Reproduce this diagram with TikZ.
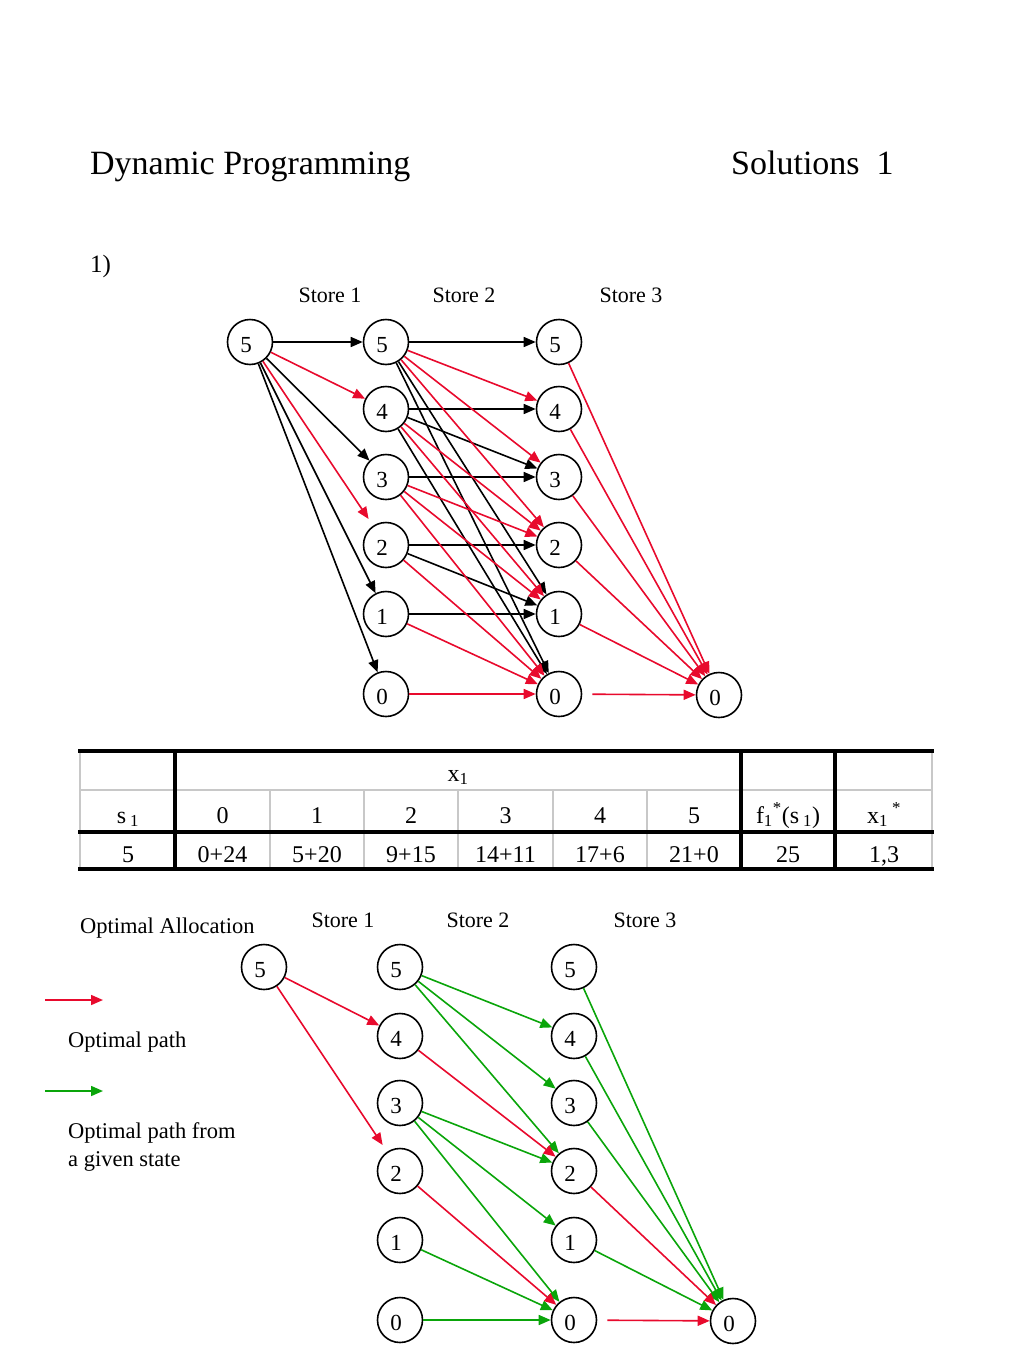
\documentclass[tikz,border=0pt]{standalone}
\usepackage{fontspec}
\setmainfont{Liberation Serif}
\usepackage{graphicx}
\usetikzlibrary{arrows.meta}
\newcommand\fsz[2]{\fontsize{#1}{#2}\selectfont}
\definecolor{myred}{RGB}{232,10,45}
\definecolor{mygreen}{RGB}{10,165,10}
\definecolor{tgray}{RGB}{200,200,200}
\tikzset{
  st/.style={circle,draw,line width=1.6pt,minimum size=45pt,inner sep=0pt},
  digit/.style={font=\fsz{23}{27},inner sep=0pt,xshift=-4pt,yshift=-3pt},
  ar/.style={-{Triangle[length=12pt,width=10pt]},line width=1.6pt},
  bk/.style={ar,draw=black},
  rd/.style={ar,draw=myred,fill=myred},
  gn/.style={ar,draw=mygreen,fill=mygreen},
  lbl/.style={font=\fsz{22}{26},anchor=base,inner sep=0pt},
  txt/.style={font=\fsz{22.5}{28},anchor=base west,inner sep=0pt},
  ttl/.style={font=\fsz{34}{40},anchor=base west,inner sep=0pt},
  tcell/.style={font=\fsz{24}{28},anchor=base,inner sep=0pt},
  thick line/.style={line width=3.5pt,black},
  thin line/.style={line width=1.6pt,tgray}
}
\begin{document}
\begin{tikzpicture}[x=1pt,y=-1pt]
\useasboundingbox (0,0) rectangle (1024,1365);
% titles
\node[ttl] (title) at (90,174) {Dynamic Programming};
\node[ttl] (sol) at (731,174) {Solutions~ 1};
\node[font=\fsz{25}{30},anchor=base west,inner sep=0pt] (q1) at (90,272) {1)};
\node[lbl] (ts1) at (330,302) {Store 1};
\node[lbl] (ts2) at (464,302) {Store 2};
\node[lbl] (ts3) at (631,302) {Store 3};
% top nodes
\node[st,label={[digit]center:5}] (ta5) at (250,342) {};
\foreach \v/\y in {5/342,4/409,3/477,2/545,1/614,0/694} {
  \node[st,label={[digit]center:\v}] (tb\v) at (386,\y) {};
  \node[st,label={[digit]center:\v}] (tc\v) at (559,\y) {};
}
\node[st,label={[digit]center:0}] (td0) at (719,695) {};
% top edges black
\draw[bk] (ta5) -- (tb5);
\draw[bk] (ta5) -- (tb3);
\draw[bk] (ta5) -- (tb1);
\draw[bk] (ta5) -- (tb0);
\draw[bk] (tb5) -- (tc5);
\draw[bk] (tb5) -- (tc1);
\draw[bk] (tb5) -- (tc0);
\draw[bk] (tb4) -- (tc4);
\draw[bk] (tb4) -- (tc3);
\draw[bk] (tb4) -- (tc0);
\draw[bk] (tb3) -- (tc3);
\draw[bk] (tb2) -- (tc2);
\draw[bk] (tb2) -- (tc1);
\draw[bk] (tb1) -- (tc1);
% top edges red
\draw[rd] (ta5) -- (tb4);
\draw[rd,shorten >=8pt] (ta5) -- (tb2);
\draw[rd] (tb5) -- (tc4);
\draw[rd] (tb5) -- (tc3);
\draw[rd] (tb5) -- (tc2);
\draw[rd] (tb4) -- (tc2);
\draw[rd] (tb4) -- (tc1);
\draw[rd] (tb3) -- (tc2);
\draw[rd] (tb3) -- (tc1);
\draw[rd] (tb3) -- (tc0);
\draw[rd] (tb2) -- (tc0);
\draw[rd] (tb1) -- (tc0);
\draw[rd] (tb0) -- (tc0);
\foreach \v in {5,4,3,2,1} { \draw[rd] (tc\v) -- (td0); }
\draw[rd,shorten <=10pt] (tc0) -- (td0);
% table
\draw[thin line] (80,790) -- (932,790);
\foreach \x in {270,364,458,553,647} { \draw[thin line] (\x,790) -- (\x,869); }
\draw[thin line] (80,751) -- (80,869);
\draw[thin line] (932,751) -- (932,869);
\draw[thick line] (78,751) -- (934,751);
\draw[thick line] (78,832) -- (934,832);
\draw[thick line] (78,869) -- (934,869);
\foreach \x in {175,741,835} { \draw[thick line] (\x,751) -- (\x,869); }
\node[tcell] (hx) at (458,781) {x\textsubscript{1}};
\node[tcell] (hs) at (128,823) {s\,\textsubscript{1}};
\foreach \t/\x in {0/222.5,1/317,2/411,3/505.5,4/600,5/694} {
  \node[tcell] (hc\t) at (\x,823) {\t};
}
\node[tcell] (hf) at (788,823) {f\textsubscript{1}\textsuperscript{*}(s\,\textsubscript{1})};
\node[tcell] (hxs) at (884,823) {x\textsubscript{1}\,\textsuperscript{*}};
\foreach \t/\x [count=\i] in {5/128,0+24/222.5,5+20/317,9+15/411,14+11/505.5,17+6/600,21+0/694,25/788,{1,3}/884} {
  \node[tcell] (r\i) at (\x,862) {\t};
}
% bottom part
\node[txt] (oa) at (80,933) {Optimal Allocation};
\node[lbl] (bs1) at (343,927) {Store 1};
\node[lbl] (bs2) at (478,927) {Store 2};
\node[lbl] (bs3) at (645,927) {Store 3};
\node[st,label={[digit]center:5}] (ba5) at (264,967) {};
\foreach \v/\y in {5/967,4/1036,3/1103,2/1171,1/1240,0/1320} {
  \node[st,label={[digit]center:\v}] (bb\v) at (400,\y) {};
  \node[st,label={[digit]center:\v}] (bc\v) at (574,\y) {};
}
\node[st,label={[digit]center:0}] (bd0) at (733,1321) {};
% legend
\coordinate (lr1) at (45,1000);
\coordinate (lr2) at (103,1000);
\coordinate (lg1) at (45,1091);
\coordinate (lg2) at (103,1091);
\draw[rd] (lr1) -- (lr2);
\draw[gn] (lg1) -- (lg2);
\node[txt] (op) at (68,1047) {Optimal path};
\node[txt,align=left] (opg) at (68,1166) {Optimal path from\\a given state};
% bottom edges green
\draw[gn] (bb5) -- (bc4);
\draw[gn] (bb5) -- (bc3);
\draw[gn] (bb5) -- (bc2);
\draw[gn] (bb3) -- (bc2);
\draw[gn] (bb3) -- (bc1);
\draw[gn] (bb3) -- (bc0);
\draw[gn] (bb1) -- (bc0);
\draw[gn] (bb0) -- (bc0);
\foreach \v in {5,4,3,1} { \draw[gn] (bc\v) -- (bd0); }
% bottom edges red
\draw[rd] (ba5) -- (bb4);
\draw[rd,shorten >=8pt] (ba5) -- (bb2);
\draw[rd] (bb4) -- (bc2);
\draw[rd] (bb2) -- (bc0);
\draw[rd] (bc2) -- (bd0);
\draw[rd,shorten <=10pt] (bc0) -- (bd0);
\end{tikzpicture}
\end{document}
